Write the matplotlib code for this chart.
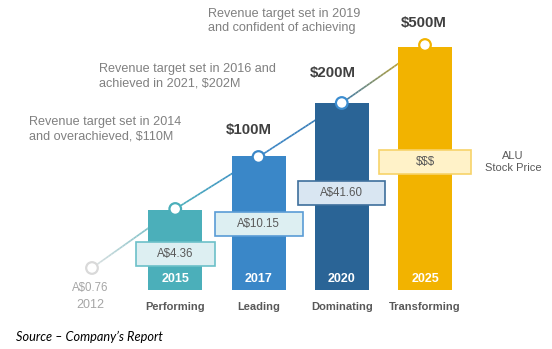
import numpy as np
import matplotlib
matplotlib.use('Agg')
import matplotlib.pyplot as plt
from matplotlib.collections import LineCollection
from matplotlib.colors import to_rgb

plt.rcParams['font.family'] = ['Liberation Sans', 'DejaVu Sans']

# data (heights are in picture units above the baseline)
years = ['2015', '2017', '2020', '2025']
stages = ['Performing', 'Leading', 'Dominating', 'Transforming']
bar_pos = [1, 2, 3, 4]
bar_height = [80, 134, 187, 243]
bar_colors = ['#4BAFBA', '#3A87C8', '#2A6496', '#F2B300']

revenue_labels = ['', '$100M', '$200M', '$500M']

point_pos = [0, 1, 2, 3, 4]
point_height = [22, 81, 133, 187, 245]
point_colors = ['#D9D9D9', '#4BAFBA', '#3A87C8', '#3C8DD0', '#F2B300']

stock_prices = ['A$4.36', 'A$10.15', 'A$41.60', '$$$']
stock_level = [36, 66, 97, 128]
stock_fill = ['#DDEFF2', '#DDEFF2', '#D9E6F2', '#FFF2C8']
stock_edge = ['#6CC0C8', '#5A9CD6', '#3E6F9C', '#F7D36A']

notes = ['Revenue target set in 2014\nand overachieved, $110M',
         'Revenue target set in 2016 and\nachieved in 2021, $202M',
         'Revenue target set in 2019\nand confident of achieving']

# pixel -> data helpers (83.25 px per step, baseline at 290 px)
def px(x):
    return (x - 92) / 83.25

def py(y):
    return 290 - y

fig = plt.figure(figsize=(5.52, 3.49), dpi=100)
ax = fig.add_axes([0, 0, 1, 1])
ax.set_xlim(px(0), px(552))
ax.set_ylim(py(349), py(0))
ax.axis('off')

# gradient line behind bars
line_cols = ['#E2E2E2', '#4BAFBA', '#3A87C8', '#3A7AB0', '#F2B300']
segs, cols = [], []
for i in range(len(point_pos) - 1):
    c0 = np.array(to_rgb(line_cols[i]))
    c1 = np.array(to_rgb(line_cols[i + 1]))
    n = 30
    for k in range(n):
        t0, t1 = k / n, (k + 1) / n
        x0 = point_pos[i] + (point_pos[i + 1] - point_pos[i]) * t0
        x1 = point_pos[i] + (point_pos[i + 1] - point_pos[i]) * t1
        y0 = point_height[i] + (point_height[i + 1] - point_height[i]) * t0
        y1 = point_height[i] + (point_height[i + 1] - point_height[i]) * t1
        segs.append([(x0, y0), (x1, y1)])
        cols.append(c0 + (c1 - c0) * (t0 + t1) / 2)
ax.add_collection(LineCollection(segs, colors=cols, linewidths=1.2, zorder=1))

bw = 54 / 83.25
ax.bar(bar_pos, bar_height, width=bw, color=bar_colors, zorder=2)

ax.scatter(point_pos, point_height, s=70, facecolor='white', edgecolor=point_colors,
           linewidths=1.6, zorder=4)

# stock price boxes
box_w = [79, 88, 87, 92]
for i in range(4):
    w = box_w[i] / 83.25
    r = plt.Rectangle((bar_pos[i] - w / 2, stock_level[i] - 12), w, 24,
                      facecolor=stock_fill[i], edgecolor=stock_edge[i], lw=1.2, zorder=3)
    ax.add_patch(r)
    ax.text(bar_pos[i], stock_level[i], stock_prices[i], ha='center', va='center',
            fontsize=8.3, color='#595959', zorder=5)

for i in range(4):
    ax.text(bar_pos[i], 11, years[i], ha='center', va='center', fontsize=9,
            fontweight='bold', color='white', zorder=5)
    ax.text(bar_pos[i], -17, stages[i], ha='center', va='center', fontsize=8,
            fontweight='bold', color='#595959')

rev_x = [0, px(249), px(333), px(424)]
rev_y = [0, py(130), py(73), py(23)]
for i in range(1, 4):
    ax.text(rev_x[i], rev_y[i], revenue_labels[i], ha='center', va='center',
            fontsize=10.8, fontweight='bold', color='#404040')

ax.text(px(90), py(288), 'A$0.76', ha='center', va='center', fontsize=8.3, color='#A6A6A6')
ax.text(px(90), py(305), '2012', ha='center', va='center', fontsize=9, color='#A6A6A6')

note_x = [px(29), px(99), px(208)]
note_y = [py(129.5), py(76.5), py(21)]
for i in range(3):
    ax.text(note_x[i], note_y[i], notes[i], ha='left', va='center', fontsize=9.1,
            color='#808080', linespacing=1.28)

ax.text(px(513), py(162), 'ALU\nStock Price', ha='center', va='center', fontsize=8,
        color='#595959', linespacing=1.25)

ax.text(px(16), py(337), 'Source \u2013 Company\u2019s Report', ha='left', va='center',
        fontsize=9.2, style='italic', family=['Lato', 'DejaVu Sans'], color='black')

fig.savefig('out.png', dpi=100)
